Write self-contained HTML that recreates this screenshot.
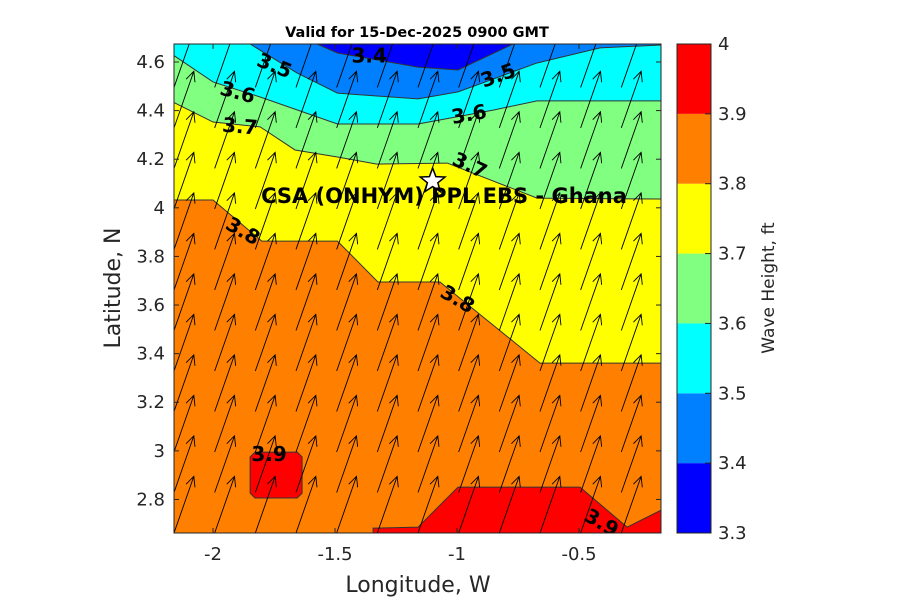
<!DOCTYPE html>
<html><head><meta charset="utf-8"><style>
body{margin:0;background:#fff;}
svg text{font-family:"DejaVu Sans","Liberation Sans",sans-serif;}
</style></head><body>
<svg id="c" width="900" height="600" xmlns="http://www.w3.org/2000/svg"></svg>
<script>
// ---- data (lon, lat) ----
const lonTicks=[-2,-1.5,-1,-0.5];
const latTicks=[2.8,3,3.2,3.4,3.6,3.8,4,4.2,4.4,4.6];
const cbTicks=[3.3,3.4,3.5,3.6,3.7,3.8,3.9,4];
const cbColors=["#0000ff","#0080ff","#00ffff","#80ff80","#ffff00","#ff8000","#ff0000"];
const c38Lon=[-2.164,-2.0,-1.80,-1.49,-1.324,-1.07,-0.66,-0.164];
const c38Lat=[4.032,4.032,3.863,3.863,3.695,3.695,3.361,3.361];
const c37Lon=[-2.164,-2.0,-1.807,-1.664,-1.49,-1.328,-1.04,-0.672,-0.164];
const c37Lat=[4.435,4.353,4.333,4.238,4.209,4.18,4.184,4.04,4.036];
const c36Lon=[-2.164,-2.0,-1.807,-1.49,-1.16,-0.852,-0.672,-0.164];
const c36Lat=[4.629,4.518,4.456,4.345,4.345,4.402,4.44,4.44];
const c35Lon=[-1.848,-1.656,-1.49,-1.16,-0.996,-0.672,-0.414,-0.164];
const c35Lat=[4.674,4.555,4.472,4.448,4.477,4.596,4.658,4.67];
const c34Lon=[-1.574,-1.49,-1.16,-0.996,-0.77];
const c34Lat=[4.674,4.637,4.579,4.567,4.674];
const r1Lon=[-1.828,-1.655,-1.635,-1.635,-1.655,-1.828,-1.848,-1.848];
const r1Lat=[2.995,2.995,2.975,2.826,2.806,2.806,2.826,2.975];
const r2Lon=[-1.344,-1.16,-0.996,-0.496,-0.303,-0.164,-0.164,-1.344];
const r2Lat=[2.682,2.686,2.851,2.851,2.686,2.756,2.662,2.662];
const windU=[0.35,0.35,0.35,0.35,0.35,0.35,0.35,0.35,0.35,0.35,0.35,0.35];
const windV=[1,1,1,1,1,1,1,1,1,1,1,1];
const labels=[["3.5",-1.75,4.58,22],["3.4",-1.36,4.62,0],["3.5",-0.83,4.54,-20],["3.6",-1.9,4.47,15],["3.6",-0.95,4.38,-10],["3.7",-1.89,4.33,5],["3.7",-0.95,4.17,25],["3.8",-1.88,3.9,30],["3.8",-1.0,3.62,30],["3.9",-1.77,2.98,0],["3.9",-0.41,2.7,30]];
// ---- axes ----
const X0=174,X1=661,Y0=44,Y1=533;
const LON0=-2.16,LON1=-0.164,LAT0=2.662,LAT1=4.674;
const sx=v=>X0+(v-LON0)/(LON1-LON0)*(X1-X0);
const sy=v=>Y1-(v-LAT0)/(LAT1-LAT0)*(Y1-Y0);
const cy=v=>533-(v-3.3)/0.7*489;
const svg=document.getElementById('c');
const NS="http://www.w3.org/2000/svg";
function mk(t,a,p){const e=document.createElementNS(NS,t);for(const k in a)e.setAttribute(k,a[k]);(p||svg).appendChild(e);return e;}
function pts(lo,la){return lo.map((v,i)=>sx(v)+","+sy(la[i])).join(" ");}
const clip=mk('clipPath',{id:'pc'});mk('rect',{x:X0,y:Y0,width:X1-X0,height:Y1-Y0},clip);
const g=mk('g',{'clip-path':'url(#pc)'});


let e=mk('rect',{x:X0,y:Y0,width:X1-X0,height:Y1-Y0,fill:cbColors[5]},g);

function band(lo,la,col,name){
 let p=pts(lo,la)+" "+sx(lo[lo.length-1])+","+(Y0-5)+" "+sx(lo[0])+","+(Y0-5);
 let el=mk('polygon',{points:p,fill:col},g);
 
}
band(c38Lon,c38Lat,cbColors[4],'band-3-7');
band(c37Lon,c37Lat,cbColors[3],'band-3-6');
band(c36Lon,c36Lat,cbColors[2],'band-3-5');
band(c35Lon,c35Lat,cbColors[1],'band-3-4');
band(c34Lon,c34Lat,cbColors[0],'band-3-3');
[[c38Lon,c38Lat],[c37Lon,c37Lat],[c36Lon,c36Lat],[c35Lon,c35Lat],[c34Lon,c34Lat]].forEach(c=>{
 let l=mk('polyline',{points:pts(c[0],c[1]),fill:'none',stroke:'#333',"stroke-width":1},g);
 
});
[[r1Lon,r1Lat],[r2Lon,r2Lat]].forEach(r=>{
 let p=mk('polygon',{points:pts(r[0],r[1]),fill:cbColors[6],stroke:'#333',"stroke-width":1},g);
 
});
// arrows
const ag=mk('g',{stroke:'#000',"stroke-width":0.9,fill:'none'},g);

const L=60;
for(let j=0;j<12;j++){for(let i=0;i<12;i++){
 const lon=LON0+i/6, lat=LAT0+j/6;
 const x=sx(lon), y=sy(lat);
 const u=windU[j],v=windV[j],n=Math.hypot(u,v);
 const dx=u/n*L, dy=-v/n*L, hx=x+dx, hy=y+dy;
 const a=Math.atan2(dy,dx), h=11;
 const p=mk('path',{d:`M${x},${y}L${hx},${hy}M${hx+h*Math.cos(a+2.7)},${hy+h*Math.sin(a+2.7)}L${hx},${hy}L${hx+h*Math.cos(a-2.7)},${hy+h*Math.sin(a-2.7)}`},ag);
 
}}
// contour labels
labels.forEach(l=>{
 const t=mk('text',{x:sx(l[1]),y:sy(l[2]),"font-size":20,"font-weight":"bold","text-anchor":"middle","dominant-baseline":"middle",transform:`rotate(${l[3]} ${sx(l[1])} ${sy(l[2])})`},g);
 t.textContent=l[0];
});
// star + site label
const stx=sx(-1.1),sty=sy(4.11);let sp=[];
for(let k=0;k<10;k++){const r=k%2?5.5:13,an=-Math.PI/2+k*Math.PI/5;sp.push((stx+r*Math.cos(an))+","+(sty+r*Math.sin(an)));}
e=mk('polygon',{points:sp.join(" "),fill:'#fff',stroke:'#000',"stroke-width":1.5});

e=mk('text',{x:444,y:203,"font-size":21,"font-weight":"bold","text-anchor":"middle"});
e.textContent="CSA (ONHYM) PPL EBS  - Ghana";
// frame & ticks
e=mk('rect',{x:X0,y:Y0,width:X1-X0,height:Y1-Y0,fill:'none',stroke:'#262626',"stroke-width":1});

lonTicks.forEach(v=>{const x=sx(v);mk('line',{x1:x,x2:x,y1:Y1,y2:Y1-5,stroke:'#262626'});mk('line',{x1:x,x2:x,y1:Y0,y2:Y0+5,stroke:'#262626'});
 const t=mk('text',{x:x,y:560,"font-size":18,"text-anchor":"middle",fill:'#262626'});t.textContent=v;});
latTicks.forEach(v=>{const y=sy(v);mk('line',{x1:X0,x2:X0+5,y1:y,y2:y,stroke:'#262626'});mk('line',{x1:X1,x2:X1-5,y1:y,y2:y,stroke:'#262626'});
 const t=mk('text',{x:165,y:y+6,"font-size":18,"text-anchor":"end",fill:'#262626'});t.textContent=v;});
e=mk('text',{x:418,y:592,"font-size":22,"text-anchor":"middle",fill:'#262626'});e.textContent="Longitude, W";
e=mk('text',{x:0,y:0,"font-size":22,"text-anchor":"middle",fill:'#262626',transform:'translate(120,288) rotate(-90)'});e.textContent="Latitude, N";
e=mk('text',{x:417,y:37,"font-size":14.5,"font-weight":"bold","text-anchor":"middle"});e.textContent="Valid for 15-Dec-2025 0900 GMT";
// colorbar
cbColors.forEach((c,i)=>{const r=mk('rect',{x:677,y:cy(cbTicks[i+1]),width:34,height:cy(cbTicks[i])-cy(cbTicks[i+1]),fill:c});});
e=mk('rect',{x:677,y:44,width:34,height:489,fill:'none',stroke:'#262626'});
cbTicks.forEach(v=>{const y=cy(v);mk('line',{x1:705,x2:711,y1:y,y2:y,stroke:'#262626'});
 const t=mk('text',{x:718,y:y+6,"font-size":18,fill:'#262626'});t.textContent=v;});
e=mk('text',{x:0,y:0,"font-size":17,"text-anchor":"middle",fill:'#262626',transform:'translate(774,288) rotate(-90)'});e.textContent="Wave Height, ft";
</script>
</body></html>
